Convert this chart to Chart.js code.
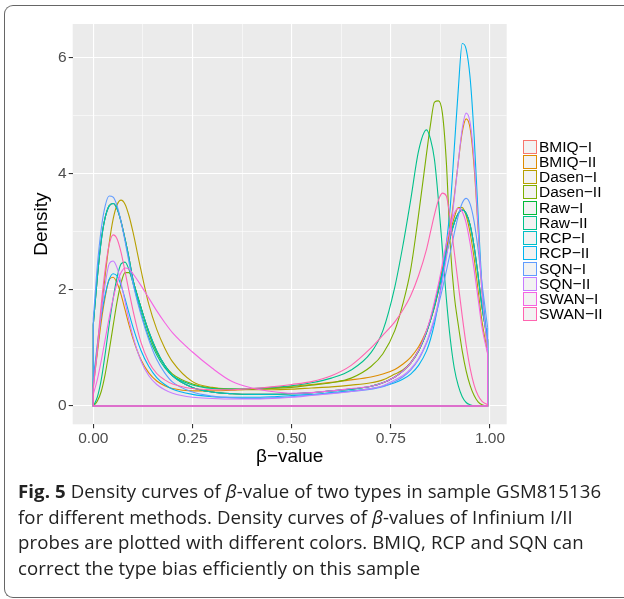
<!DOCTYPE html>
<html><head><meta charset="utf-8">
<script src="https://cdn.jsdelivr.net/npm/chart.js@4.4.1/dist/chart.umd.min.js"></script>
<style>
html,body{margin:0;padding:0;background:#fff}
#wrap{position:relative;width:624px;height:599px;overflow:hidden;font-family:"Liberation Sans",Arial,sans-serif}
#frame{position:absolute;left:4px;top:5px;width:900px;height:593px;border-left:1.5px solid #666;border-top:1.5px solid #666;border-bottom:1.5px solid #666;border-right:none;border-radius:9px 0 0 9px;box-sizing:border-box}
#c{position:absolute;left:0;top:0}
#legend{position:absolute;left:522.5px;top:139px}
.row{height:15.25px;display:flex;align-items:center;font-size:15.5px;color:#000;white-space:nowrap}
.key{width:14px;height:14px;box-sizing:border-box;border:1.3px solid;background:#F2F2F2;margin-right:2.5px;flex:none}
#caption{position:absolute;left:18px;top:478px;font-family:"Open Sans",sans-serif;font-size:18.6px;letter-spacing:0.1px;line-height:25.5px;color:#222;white-space:nowrap}
#caption div{height:25.5px}
</style></head>
<body>
<div id="wrap">
<div id="frame"></div>
<canvas id="c" width="624" height="480"></canvas>
<div id="legend"></div>
<div id="caption">
<div><b>Fig. 5</b> Density curves of <i>β</i>-value of two types in sample GSM815136</div>
<div>for different methods. Density curves of <i>β</i>-values of Infinium I/II</div>
<div>probes are plotted with different colors. BMIQ, RCP and SQN can</div>
<div>correct the type bias efficiently on this sample</div>
</div>
</div>
<script>
// x grid (β-value) at which densities were read
const betaGrid = [0,0.01,0.02,0.03,0.04,0.05,0.06,0.07,0.08,0.09,0.10,0.12,0.14,0.16,0.18,0.20,0.25,0.30,0.35,0.40,0.45,0.50,0.55,0.60,0.65,0.70,
  0.73,0.76,0.78,0.80,0.82,0.84,0.85,0.86,0.87,0.88,0.89,0.90,0.91,0.92,0.93,0.94,0.95,0.96,0.97,0.98,0.994];

const seriesNames = ["BMIQ\u2212I","BMIQ\u2212II","Dasen\u2212I","Dasen\u2212II","Raw\u2212I","Raw\u2212II","RCP\u2212I","RCP\u2212II","SQN\u2212I","SQN\u2212II","SWAN\u2212I","SWAN\u2212II"];
const seriesColors = ["#F8766D","#DE8C00","#B79F00","#7CAE00","#00BA38","#00C08B","#00BFC4","#00B4F0","#619CFF","#C77CFF","#F564E3","#FF64B0"];

const bmiqI  = [1.40,2.20,2.85,3.25,3.45,3.49,3.40,3.18,2.88,2.55,2.18,1.70,1.28,0.95,0.70,0.52,0.32,0.24,0.21,0.20,0.20,0.21,0.23,0.26,0.29,0.34,
  0.40,0.50,0.60,0.74,0.95,1.27,1.48,1.72,2.00,2.30,2.62,2.92,3.16,3.32,3.38,3.32,3.12,2.75,2.25,1.70,1.15];
const bmiqII = [0.35,0.90,1.45,1.88,2.18,2.22,2.12,1.92,1.66,1.40,1.16,0.80,0.57,0.43,0.35,0.30,0.26,0.26,0.27,0.29,0.31,0.34,0.37,0.41,0.45,0.50,
  0.55,0.63,0.72,0.84,1.02,1.30,1.48,1.70,1.98,2.30,2.68,3.10,3.62,4.20,4.72,4.95,4.78,4.12,3.05,1.95,0.95];
const dasenI = [0.40,0.95,1.60,2.25,2.80,3.22,3.47,3.55,3.48,3.28,3.00,2.35,1.75,1.32,1.00,0.76,0.42,0.32,0.29,0.28,0.28,0.29,0.31,0.33,0.36,0.40,
  0.45,0.55,0.62,0.75,0.96,1.28,1.50,1.75,2.05,2.38,2.70,3.00,3.25,3.42,3.42,3.28,2.98,2.55,2.00,1.45,0.92];
const dasenII = [0.00,0.08,0.25,0.55,0.95,1.38,1.80,2.12,2.30,2.30,2.15,1.70,1.25,0.92,0.70,0.55,0.38,0.31,0.29,0.29,0.30,0.32,0.36,0.40,0.48,0.68,
  0.90,1.30,1.75,2.35,3.30,4.35,4.85,5.24,5.26,5.05,4.20,2.75,1.90,1.40,0.95,0.60,0.35,0.18,0.07,0.02,0.00];
const rawI   = [1.40,2.20,2.85,3.25,3.45,3.49,3.40,3.18,2.88,2.55,2.18,1.70,1.28,0.95,0.70,0.52,0.32,0.24,0.21,0.20,0.20,0.21,0.23,0.26,0.29,0.34,
  0.40,0.50,0.60,0.74,0.95,1.27,1.48,1.72,2.00,2.30,2.62,2.92,3.16,3.32,3.38,3.32,3.12,2.75,2.25,1.70,1.15];
const rawII  = [0.00,0.15,0.45,0.90,1.40,1.85,2.22,2.45,2.48,2.35,2.12,1.62,1.18,0.88,0.66,0.52,0.36,0.30,0.29,0.30,0.32,0.35,0.40,0.48,0.62,0.92,
  1.30,2.05,2.75,3.55,4.40,4.76,4.60,4.25,3.55,2.70,1.85,1.15,0.65,0.35,0.16,0.06,0.02,0.00,0.00,0.00,0.00];
const rcpI   = [1.40,2.20,2.85,3.25,3.45,3.49,3.40,3.18,2.88,2.55,2.18,1.70,1.28,0.95,0.70,0.52,0.32,0.24,0.21,0.20,0.20,0.21,0.23,0.26,0.29,0.34,
  0.40,0.50,0.60,0.74,0.95,1.27,1.48,1.72,2.00,2.30,2.62,2.92,3.16,3.32,3.38,3.32,3.12,2.75,2.25,1.70,1.15];
const rcpII  = [0.45,1.05,1.55,1.92,2.18,2.28,2.24,2.08,1.85,1.60,1.36,0.96,0.68,0.49,0.37,0.29,0.20,0.16,0.15,0.15,0.16,0.18,0.20,0.23,0.26,0.30,
  0.34,0.40,0.46,0.55,0.70,0.95,1.15,1.42,1.78,2.25,2.80,3.45,4.45,5.45,6.25,6.15,5.65,4.65,3.30,2.05,1.10];
const sqnI   = [1.50,2.40,3.05,3.45,3.62,3.60,3.45,3.18,2.84,2.48,2.12,1.58,1.14,0.80,0.57,0.41,0.24,0.17,0.14,0.13,0.14,0.16,0.19,0.22,0.25,0.29,
  0.33,0.42,0.50,0.62,0.80,1.08,1.26,1.48,1.74,2.02,2.33,2.65,2.98,3.28,3.50,3.58,3.48,3.18,2.70,2.10,1.35];
const sqnII  = [0.30,0.95,1.60,2.10,2.45,2.50,2.38,2.12,1.80,1.48,1.20,0.78,0.52,0.37,0.28,0.22,0.15,0.13,0.12,0.12,0.13,0.15,0.18,0.21,0.25,0.30,
  0.35,0.45,0.52,0.64,0.82,1.10,1.30,1.52,1.80,2.15,2.55,3.00,3.58,4.20,4.78,5.05,4.88,4.22,3.10,1.95,0.98];
const swanI  = [0.20,0.45,0.78,1.15,1.52,1.85,2.12,2.30,2.38,2.36,2.28,2.08,1.86,1.64,1.44,1.26,0.93,0.65,0.42,0.31,0.25,0.22,0.23,0.26,0.30,0.34,
  0.40,0.50,0.60,0.74,0.96,1.30,1.52,1.80,2.10,2.45,2.80,3.10,3.32,3.41,3.35,3.15,2.80,2.35,1.85,1.35,0.90];
const swanII = [0.30,1.00,1.75,2.35,2.78,2.95,2.88,2.65,2.32,1.98,1.65,1.10,0.76,0.56,0.45,0.38,0.30,0.28,0.28,0.30,0.33,0.37,0.42,0.52,0.70,1.00,
  1.22,1.45,1.65,1.90,2.25,2.70,3.00,3.30,3.55,3.67,3.62,3.20,2.65,2.10,1.55,1.05,0.65,0.36,0.18,0.08,0.02];

const seriesValues = [bmiqI,bmiqII,dasenI,dasenII,rawI,rawII,rcpI,rcpII,sqnI,sqnII,swanI,swanII];

const xTickValues = [0,0.25,0.5,0.75,1];
const xTickLabels = ["0.00","0.25","0.50","0.75","1.00"];
const xMinorValues = [0.125,0.375,0.625,0.875];
const yTickValues = [0,2,4,6];
const yTickLabels = ["0","2","4","6"];
const yMinorValues = [1,3,5];

// legend
const leg = document.getElementById('legend');
seriesNames.forEach((n,i)=>{
  const r = document.createElement('div'); r.className='row';
  const k = document.createElement('div'); k.className='key'; k.style.borderColor = seriesColors[i];
  const t = document.createElement('span'); t.textContent = n;
  r.appendChild(k); r.appendChild(t); leg.appendChild(r);
});

const datasets = [];
const N = seriesNames.length;
seriesValues.forEach((vals,i)=>{
  const last = betaGrid.length-1;
  datasets.push({
    label: seriesNames[i],
    data: betaGrid.map((x,k)=>({x:x,y:vals[k]})),
    borderColor: seriesColors[i], borderWidth:1.1, pointRadius:0, fill:false,
    cubicInterpolationMode:'monotone', order:(N-i)*2
  });
  datasets.push({
    label: seriesNames[i]+' base',
    data: [{x:betaGrid[0],y:vals[0]},{x:betaGrid[0],y:0},{x:betaGrid[last],y:0},{x:betaGrid[last],y:vals[last]}],
    borderColor: seriesColors[i], borderWidth:1.1, pointRadius:0, fill:false, tension:0, order:(N-i)*2-1
  });
});

const panelBg = {id:'panelBg', beforeDraw(chart){
  const {ctx, chartArea:{left,top,width,height}} = chart;
  ctx.save(); ctx.fillStyle='#EBEBEB'; ctx.fillRect(left,top,width,height); ctx.restore();
}};

const isMajorX = v => xTickValues.some(t=>Math.abs(t-v)<1e-9);
const isMajorY = v => yTickValues.some(t=>Math.abs(t-v)<1e-9);
const tickFont = {family:'"Liberation Sans", Arial, sans-serif', size:15.5};
const titleFont = {family:'"Liberation Sans", Arial, sans-serif', size:19};

new Chart(document.getElementById('c'), {
  type:'line',
  data:{datasets},
  plugins:[panelBg],
  options:{
    responsive:false, animation:false, devicePixelRatio:1,
    layout:{padding:{left:0,right:117.3,top:24,bottom:0}},
    plugins:{legend:{display:false}, tooltip:{enabled:false}},
    scales:{
      x:{type:'linear', min:-0.0519, max:1.0421,
        afterBuildTicks:s=>{s.ticks = xTickValues.concat(xMinorValues).sort((a,b)=>a-b).map(v=>({value:v}));},
        afterFit:s=>{s.height = 55.7;},
        ticks:{autoSkip:false, maxRotation:0, font:tickFont, color:'#4D4D4D', padding:1,
          callback:v=>{const i=xTickValues.findIndex(t=>Math.abs(t-v)<1e-9); return i>=0?xTickLabels[i]:'';}},
        grid:{color:'#FFFFFF', lineWidth:c=>isMajorX(c.tick.value)?1.1:0.55, tickLength:4,
          tickColor:c=>isMajorX(c.tick.value)?'#333333':'rgba(0,0,0,0)', tickWidth:1.1},
        border:{display:false},
        title:{display:true, text:'\u03B2\u2212value', font:titleFont, color:'#000', padding:{top:0,bottom:12}}
      },
      y:{type:'linear', min:-0.316, max:6.586,
        afterBuildTicks:s=>{s.ticks = yTickValues.concat(yMinorValues).sort((a,b)=>a-b).map(v=>({value:v}));},
        afterFit:s=>{s.width = 72.7;},
        ticks:{autoSkip:false, font:tickFont, color:'#4D4D4D', padding:2,
          callback:v=>{const i=yTickValues.findIndex(t=>Math.abs(t-v)<1e-9); return i>=0?yTickLabels[i]:'';}},
        grid:{color:'#FFFFFF', lineWidth:c=>isMajorY(c.tick.value)?1.1:0.55, tickLength:4,
          tickColor:c=>isMajorY(c.tick.value)?'#333333':'rgba(0,0,0,0)', tickWidth:1.1},
        border:{display:false},
        title:{display:true, text:'Density', font:titleFont, color:'#000', padding:{top:30.5,bottom:0}}
      }
    }
  }
});
</script>
</body></html>
